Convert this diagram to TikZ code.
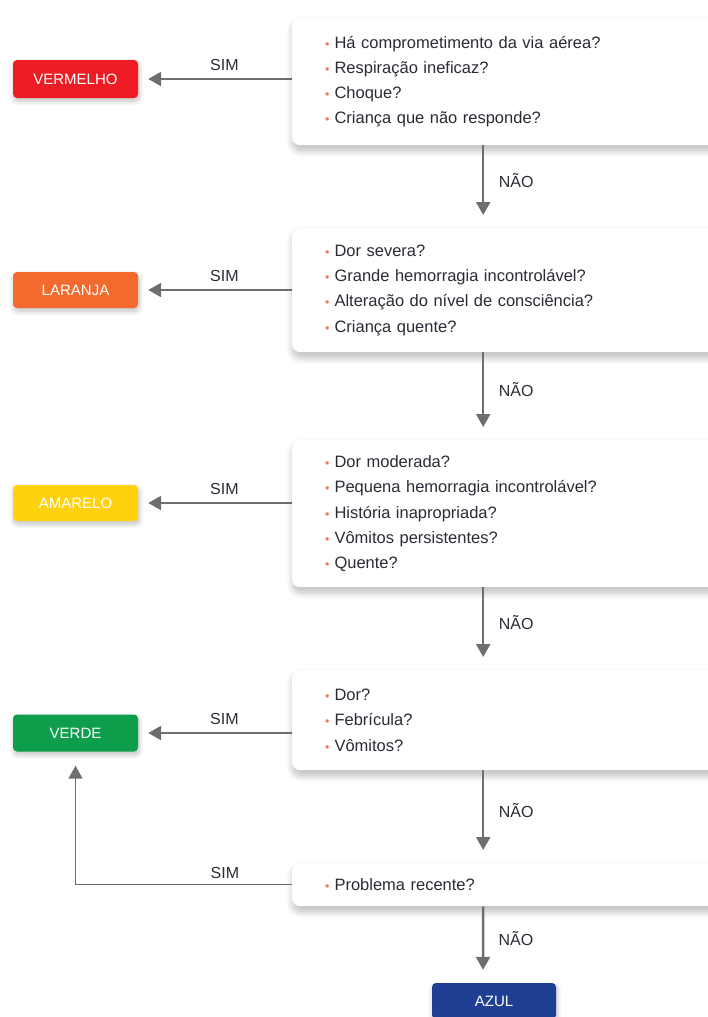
\documentclass[tikz,border=0pt]{standalone}
\usepackage{fontspec}
\setmainfont{Liberation Sans}
\usetikzlibrary{arrows.meta,shadows.blur}

\definecolor{txtc}{HTML}{2B2B38}
\definecolor{dotc}{HTML}{E57A5E}
\definecolor{arrc}{HTML}{6D6E70}
\definecolor{vermelho}{HTML}{ED1C24}
\definecolor{laranja}{HTML}{F26A2E}
\definecolor{amarelo}{HTML}{FFD10F}
\definecolor{verde}{HTML}{0E9E4B}
\definecolor{azul}{HTML}{1F3F95}

\newcommand{\qitem}[1]{{\color{dotc}\scalebox{.75}{\textbullet}}\hspace{5pt}#1}

\begin{document}
\begin{tikzpicture}[x=1pt,y=-1pt,
	qbox/.style={fill=white,rounded corners=8pt,anchor=north west,minimum width=430pt,
		inner xsep=33pt,text width=364pt,align=left,text=txtc,
		font=\fontsize{16.5}{25.3}\selectfont,
		blur shadow={shadow xshift=1pt,shadow yshift=-5pt,shadow opacity=28,shadow blur radius=7pt,shadow blur steps=10}},
	tag/.style={rounded corners=4pt,minimum width=125pt,text=white,
		font=\fontsize{15}{15}\selectfont,
		blur shadow={shadow xshift=1pt,shadow yshift=-3pt,shadow opacity=25,shadow blur radius=5pt,shadow blur steps=8}},
	arr/.style={draw=arrc,line width=2.5pt,-{Triangle[length=13pt,width=14pt]}},
	lbl/.style={text=txtc,font=\fontsize{16}{16}\selectfont}]
	\useasboundingbox (0,0) rectangle (708,1017);

	% perguntas
	\node[qbox,minimum height=127pt] (q1) at (292,18) {\qitem{Há comprometimento da via aérea?}\\
		\qitem{Respiração ineficaz?}\\ \qitem{Choque?}\\ \qitem{Criança que não responde?}};
	\node[qbox,minimum height=124pt] (q2) at (292,228) {\qitem{Dor severa?}\\
		\qitem{Grande hemorragia incontrolável?}\\ \qitem{Alteração do nível de consciência?}\\
		\qitem{Criança quente?}};
	\node[qbox,minimum height=147pt] (q3) at (292,440) {\qitem{Dor moderada?}\\
		\qitem{Pequena hemorragia incontrolável?}\\ \qitem{História inapropriada?}\\
		\qitem{Vômitos persistentes?}\\ \qitem{Quente?}};
	\node[qbox,minimum height=100pt] (q4) at (292,670) {\qitem{Dor?}\\ \qitem{Febrícula?}\\ \qitem{Vômitos?}};
	\node[qbox,minimum height=43pt] (q5) at (292,863) {\qitem{Problema recente?}};

	% cores
	\node[tag,fill=vermelho,minimum height=38pt] (red) at (75.5,79) {VERMELHO};
	\node[tag,fill=laranja,minimum height=36pt] (orange) at (75.5,290) {LARANJA};
	\node[tag,fill=amarelo,minimum height=36pt] (yellow) at (75.5,503) {AMARELO};
	\node[tag,fill=verde,minimum height=37pt] (green) at (75.5,733) {VERDE};
	\node[tag,fill=azul,minimum height=36pt,minimum width=124pt] (blue) at (494,1001) {AZUL};

	% sim
	\foreach \q/\c in {q1/red,q2/orange,q3/yellow,q4/green}{
			\draw[arr] (\q.west |- \c.east) -- ([xshift=10pt]\c.east) node[lbl,pos=.47,above=4pt] {SIM};
		}
	\draw[draw=arrc,line width=1.5pt,-{Triangle[length=13pt,width=14pt]}] (q5.west) -- (q5.west -| green.south)
		node[lbl,pos=.31,above=2pt] {SIM} -- ([yshift=-14pt]green.south);

	% não
	\foreach \a/\b in {q1/q2,q2/q3,q3/q4,q4/q5}{
			\draw[arr] ([xshift=-24pt]\a.south) -- ([xshift=-24pt,yshift=13pt]\b.north) node[lbl,midway,right=11pt] {NÃO};
		}
	\draw[arr] ([xshift=-24pt]q5.south) -- ([xshift=-11pt,yshift=13pt]blue.north) node[lbl,midway,right=11pt] {NÃO};
\end{tikzpicture}
\end{document}
